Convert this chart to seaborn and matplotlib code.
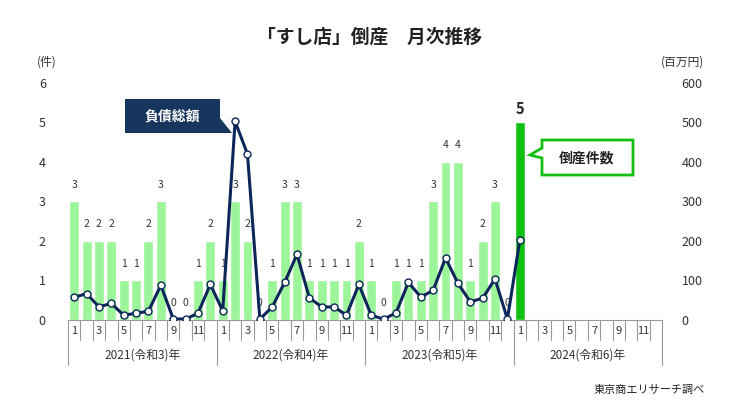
import pandas as pd
import seaborn as sns
import matplotlib.pyplot as plt
from matplotlib.patches import Polygon
from matplotlib.transforms import blended_transform_factory

sns.set_style('white')
plt.rcParams['font.family'] = ['Noto Sans CJK JP', 'DejaVu Sans']

# monthly data, 2021-01 .. 2024-01
counts = [3, 2, 2, 2, 1, 1, 2, 3, 0, 0, 1, 2,
          1, 3, 2, 0, 1, 3, 3, 1, 1, 1, 1, 2,
          1, 0, 1, 1, 1, 3, 4, 4, 1, 2, 3, 0,
          5]
debt = [57, 67, 33, 42, 12, 17, 22, 88, 3, 2, 17, 90,
        23, 503, 420, 2, 33, 95, 166, 56, 33, 33, 12, 90,
        12, 2, 18, 95, 58, 75, 157, 93, 46, 55, 104, 2,
        202]
years = ['2021(令和3)年', '2022(令和4)年', '2023(令和5)年', '2024(令和6)年']
month_ticks = ['1', '3', '5', '7', '9', '11']

n = len(counts)
keys = [f'{2021 + i // 12}-{i % 12 + 1:02d}' for i in range(n)]
df = pd.DataFrame({'month': keys, 'count': counts, 'debt': debt})

bar_light = '#9df59a'
bar_hi = '#12c012'
navy = '#0c2659'
palette = {k: bar_light for k in keys}
palette[keys[-1]] = bar_hi

fig = plt.figure(figsize=(7.39, 4.15), dpi=100)
ax = fig.add_axes([0.092, 0.229, 0.804, 0.571])

sns.barplot(data=df, x='month', y='count', hue='month', palette=palette,
            order=keys, legend=False, width=0.8, saturation=1, ax=ax)
ax.set_xlim(-0.5, 47.5)
ax.set_ylim(0, 6)
ax.set_xlabel('')
ax.set_ylabel('')
ax.set_yticks(range(7))
ax.tick_params(axis='y', length=0, pad=16, labelsize=9, labelcolor='#333333')
ax.set_xticks([])
for s in ax.spines.values():
    s.set_visible(False)

# value labels above bars
for i, c in enumerate(counts):
    if i == n - 1:
        ax.text(i, c + 0.15, str(c), ha='center', va='bottom', fontsize=10.5,
                fontweight='bold', color='#222222')
    else:
        ax.text(i, c + 0.3, str(c), ha='center', va='bottom', fontsize=7.5,
                color='#333333')

ax2 = ax.twinx()
sns.lineplot(x=list(range(n)), y=debt, ax=ax2, color=navy, lw=2.2,
             marker='o', markersize=5, markerfacecolor='white',
             markeredgecolor=navy, markeredgewidth=1)
ax2.set_ylim(0, 600)
ax2.set_yticks(range(0, 601, 100))
ax2.tick_params(axis='y', length=0, pad=14, labelsize=9, labelcolor='#333333')
for s in ax2.spines.values():
    s.set_visible(False)

# two-level x axis
tr = blended_transform_factory(ax.transData, ax.transAxes)
ax.plot([-0.5, 47.5], [0, 0], color='#999999', lw=0.8, transform=tr, clip_on=False)
for i in range(49):
    low = -0.19 if i % 12 == 0 else -0.085
    ax.plot([i - 0.5, i - 0.5], [0, low], color='#999999', lw=0.8,
            transform=tr, clip_on=False)
for y in range(4):
    for j, m in enumerate(month_ticks):
        ax.text(y * 12 + j * 2, -0.045, m, ha='center', va='center',
                fontsize=8, color='#333333', transform=tr)
    ax.text(y * 12 + 5.5, -0.148, years[y], ha='center', va='center',
            fontsize=8.5, color='#333333', transform=tr)

# title and unit labels
fig.text(0.5, 1 - 37 / 415, '「すし店」倒産\u3000月次推移', ha='center', va='center',
         fontsize=13.5, fontweight='bold', color='#222222')
fig.text(47 / 739, 1 - 62 / 415, '(件)', ha='center', va='center', fontsize=8.5,
         color='#333333')
fig.text(682 / 739, 1 - 62 / 415, '(百万円)', ha='center', va='center', fontsize=8.5,
         color='#333333')
fig.text(705 / 739, 1 - 390 / 415, '東京商エリサーチ調べ', ha='right', va='center',
         fontsize=8, color='#222222')


def px(pts):
    return [(x / 739, 1 - y / 415) for x, y in pts]


# callouts
fig.patches.append(Polygon(px([(125, 99), (220, 99), (220, 118), (232, 133),
                               (220, 133), (125, 133)]),
                           closed=True, facecolor='#17365d', edgecolor='none',
                           transform=fig.transFigure))
fig.text(172 / 739, 1 - 116 / 415, '負債総額', ha='center', va='center',
         fontsize=10, fontweight='bold', color='white')

fig.patches.append(Polygon(px([(542, 140), (633, 140), (633, 175), (542, 175),
                               (542, 158), (530, 155), (542, 148)]),
                           closed=True, facecolor='white', edgecolor=bar_hi, lw=2,
                           transform=fig.transFigure, zorder=5))
fig.text(587 / 739, 1 - 158 / 415, '倒産件数', ha='center', va='center',
         fontsize=10, fontweight='bold', color='#222222', zorder=6)

fig.savefig('out.png', dpi=100)
